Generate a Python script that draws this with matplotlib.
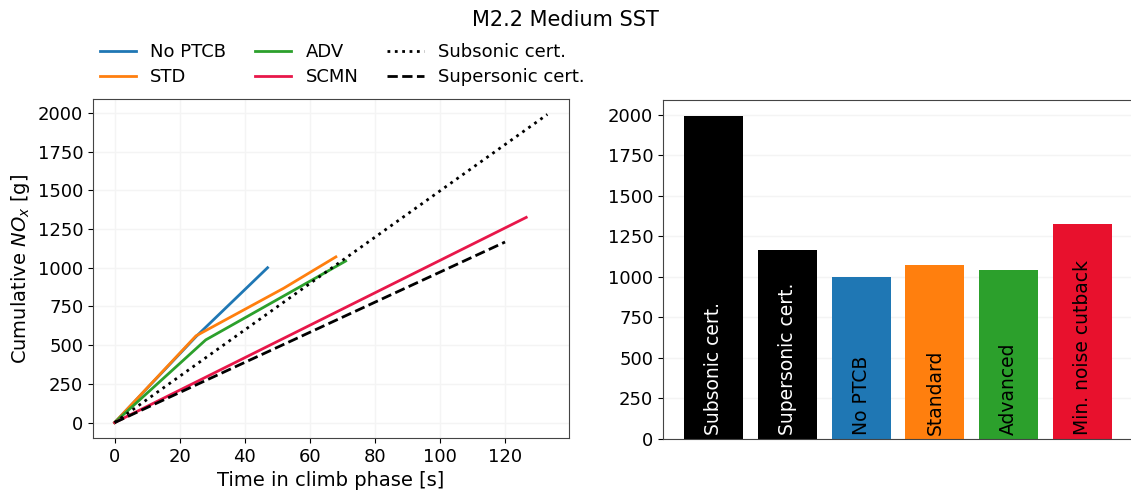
import matplotlib.pyplot as plt
import numpy as np

# Perfis de NOx acumulado na subida (tempo [s], NOx [g])
t_noptcb = [0, 25, 47]
nox_noptcb = [0, 555, 1000]
t_std = [0, 25, 52, 68]
nox_std = [0, 560, 868, 1070]
t_adv = [0, 28, 71]
nox_adv = [0, 534, 1043]
t_scmn = [0, 126.5]
nox_scmn = [0, 1325]
t_sub = [0, 133]
nox_sub = [0, 1990]
t_sup = [0, 120]
nox_sup = [0, 1166]

# Valores finais para o gráfico de barras
bar_labels = ['Subsonic cert.', 'Supersonic cert.', 'No PTCB', 'Standard',
              'Advanced', 'Min. noise cutback']
bar_values = [1990, 1166, 1000, 1070, 1043, 1325]
bar_colors = ['black', 'black', 'tab:blue', 'tab:orange', 'tab:green', '#e8112d']
text_colors = ['white', 'white', 'black', 'black', 'black', 'black']

plt.rcParams['font.size'] = 13

fig = plt.figure(figsize=(11.31, 4.91), dpi=100)
ax1 = fig.add_axes([93 / 1131, 1 - 438 / 491, 476 / 1131, 339 / 491])
ax2 = fig.add_axes([663 / 1131, 1 - 439 / 491, 470 / 1131, 339 / 491])

fig.suptitle('M2.2 Medium SST', y=0.98, fontsize=15)

ax1.plot(t_noptcb, nox_noptcb, color='tab:blue', lw=2, label='No PTCB')
ax1.plot(t_std, nox_std, color='tab:orange', lw=2, label='STD')
ax1.plot(t_adv, nox_adv, color='tab:green', lw=2, label='ADV')
ax1.plot(t_scmn, nox_scmn, color='#e8174a', lw=2, label='SCMN')
ax1.plot(t_sub, nox_sub, color='black', ls=':', lw=2, label='Subsonic cert.')
ax1.plot(t_sup, nox_sup, color='black', ls='--', lw=2, label='Supersonic cert.')
ax1.set_xticks(np.arange(0, 121, 20))
ax1.set_yticks(np.arange(0, 2001, 250))
ax1.set_xlabel('Time in climb phase [s]', fontsize=14)
ax1.set_ylabel('Cumulative $NO_x$ [g]', fontsize=14)
ax1.grid(color='#f4f4f4', lw=1)
ax1.legend(loc='lower left', bbox_to_anchor=(-0.02, 0.99), ncol=3,
           frameon=False, fontsize=13, columnspacing=1.6, labelspacing=0.4)

x = np.arange(len(bar_values))
ax2.bar(x, bar_values, color=bar_colors, width=0.8)
for xi, lab, tc in zip(x, bar_labels, text_colors):
    ax2.text(xi, 25, lab, rotation=90, ha='center', va='bottom',
             color=tc, fontsize=13.5)
ax2.set_xticks([])
ax2.set_yticks(np.arange(0, 2001, 250))
ax2.grid(axis='y', color='#f4f4f4', lw=1)
ax2.set_axisbelow(True)

for ax in (ax1, ax2):
    for s in ax.spines.values():
        s.set_color('#444444')

fig.savefig('out.png')
